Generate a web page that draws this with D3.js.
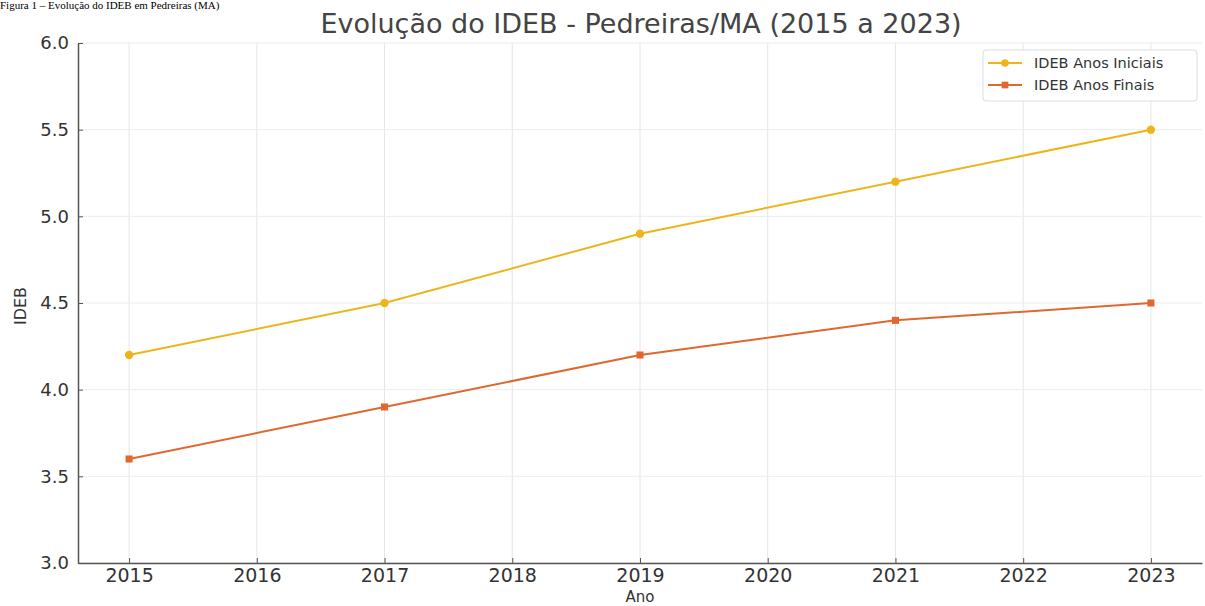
<!DOCTYPE html>
<html>
<head>
<meta charset="utf-8">
<script src="https://cdn.jsdelivr.net/npm/d3@7"></script>
<style>
  body { margin: 0; background: #fff; }
  svg { display: block; }
</style>
</head>
<body>
<div id="chart"></div>
<script>
/* IDEB evolution, Pedreiras/MA */

const years = [2015, 2017, 2019, 2021, 2023];
const iniciais = [4.2, 4.5, 4.9, 5.2, 5.5];
const finais = [3.6, 3.9, 4.2, 4.4, 4.5];
const xTicks = [2015, 2016, 2017, 2018, 2019, 2020, 2021, 2022, 2023];
const yTicks = [3.0, 3.5, 4.0, 4.5, 5.0, 5.5, 6.0];

const width = 1205,
      height = 606,
      margin = ({ top: 43, right: 3, bottom: 43, left: 78 });

let svg = d3.select("#chart")
    .append("svg")
    .attr("width", width)
    .attr("height", height);

// caption from the source document (cut off at the top in the original)
svg.append("text")
    .attr("x", 0)
    .attr("y", 9)
    .style("font-family", "Liberation Serif, Times New Roman, serif")
    .style("font-size", "11px")
    .style("fill", "#000")
    .text("Figura 1 – Evolução do IDEB em Pedreiras (MA)");

let x = d3.scaleLinear()
    .domain([2014.6, 2023.4])
    .range([margin.left, width - margin.right]);

let y = d3.scaleLinear()
    .domain([3.0, 6.0])
    .range([height - margin.bottom, margin.top]);

// grid
svg.append("g")
    .selectAll("line")
    .data(xTicks)
    .join("line")
    .attr("x1", d => x(d)).attr("x2", d => x(d))
    .attr("y1", y(3)).attr("y2", y(6))
    .attr("stroke", "#e6e6e6");

svg.append("g")
    .selectAll("line")
    .data(yTicks)
    .join("line")
    .attr("x1", x.range()[0]).attr("x2", x.range()[1])
    .attr("y1", d => y(d)).attr("y2", d => y(d))
    .attr("stroke", "#ececec");

// axes
let xAxis = svg.append("g")
    .attr("transform", `translate(0,${y(3)})`)
    .call(d3.axisBottom(x).tickValues(xTicks).tickFormat(d3.format("d")).tickSizeInner(-5).tickSizeOuter(0).tickPadding(6));

let yAxis = svg.append("g")
    .attr("transform", `translate(${x.range()[0]},0)`)
    .call(d3.axisLeft(y).tickValues(yTicks).tickFormat(d3.format(".1f")).tickSizeInner(-5).tickSizeOuter(0).tickPadding(9));

for (let g of [xAxis, yAxis]) {
    g.select(".domain").attr("stroke", "#555").attr("stroke-width", 1.5);
    g.selectAll(".tick line").attr("stroke", "#555");
    g.selectAll(".tick text")
        .style("font-family", "DejaVu Sans, sans-serif")
        .style("fill", "#333");
}
xAxis.selectAll(".tick text").style("font-size", "19px");
yAxis.selectAll(".tick text").style("font-size", "18px");

// titles
svg.append("text")
    .attr("x", 641)
    .attr("y", 33)
    .attr("text-anchor", "middle")
    .style("font-family", "DejaVu Sans, sans-serif")
    .style("font-size", "27px")
    .style("fill", "#444")
    .text("Evolução do IDEB - Pedreiras/MA (2015 a 2023)");

svg.append("text")
    .attr("x", 640)
    .attr("y", 602)
    .attr("text-anchor", "middle")
    .style("font-family", "DejaVu Sans, sans-serif")
    .style("font-size", "15px")
    .style("fill", "#333")
    .text("Ano");

svg.append("text")
    .attr("transform", "translate(26,306) rotate(-90)")
    .attr("text-anchor", "middle")
    .style("font-family", "DejaVu Sans, sans-serif")
    .style("font-size", "16px")
    .style("fill", "#333")
    .text("IDEB");

// series
const series = [
    { name: "IDEB Anos Iniciais", values: iniciais, color: "#edb51b", shape: "circle" },
    { name: "IDEB Anos Finais", values: finais, color: "#e0682f", shape: "square" }
];

let line = d3.line()
    .x((d, i) => x(years[i]))
    .y(d => y(d));

for (let s of series) {
    svg.append("path")
        .attr("d", line(s.values))
        .attr("fill", "none")
        .attr("stroke", s.color)
        .attr("stroke-width", 2);

    let sym = d3.symbol().type(s.shape == "circle" ? d3.symbolCircle : d3.symbolSquare).size(s.shape == "circle" ? 55 : 50);
    svg.append("g")
        .selectAll("path")
        .data(s.values)
        .join("path")
        .attr("transform", (d, i) => `translate(${x(years[i])},${y(d)})`)
        .attr("d", sym)
        .attr("fill", s.color);
}

// legend
let legend = svg.append("g").attr("transform", "translate(983,50)");
legend.append("rect")
    .attr("width", 214).attr("height", 51)
    .attr("rx", 3)
    .attr("fill", "#fff")
    .attr("fill-opacity", 0.85)
    .attr("stroke", "#ddd");

series.forEach((s, i) => {
    let ly = 13 + i * 22;
    legend.append("line")
        .attr("x1", 5).attr("x2", 39)
        .attr("y1", ly).attr("y2", ly)
        .attr("stroke", s.color).attr("stroke-width", 2);
    legend.append("path")
        .attr("transform", `translate(22,${ly})`)
        .attr("d", d3.symbol().type(s.shape == "circle" ? d3.symbolCircle : d3.symbolSquare).size(45))
        .attr("fill", s.color);
    legend.append("text")
        .attr("x", 51).attr("y", ly + 5)
        .style("font-family", "DejaVu Sans, sans-serif")
        .style("font-size", "14.5px")
        .style("fill", "#333")
        .text(s.name);
});
</script>
</body>
</html>
